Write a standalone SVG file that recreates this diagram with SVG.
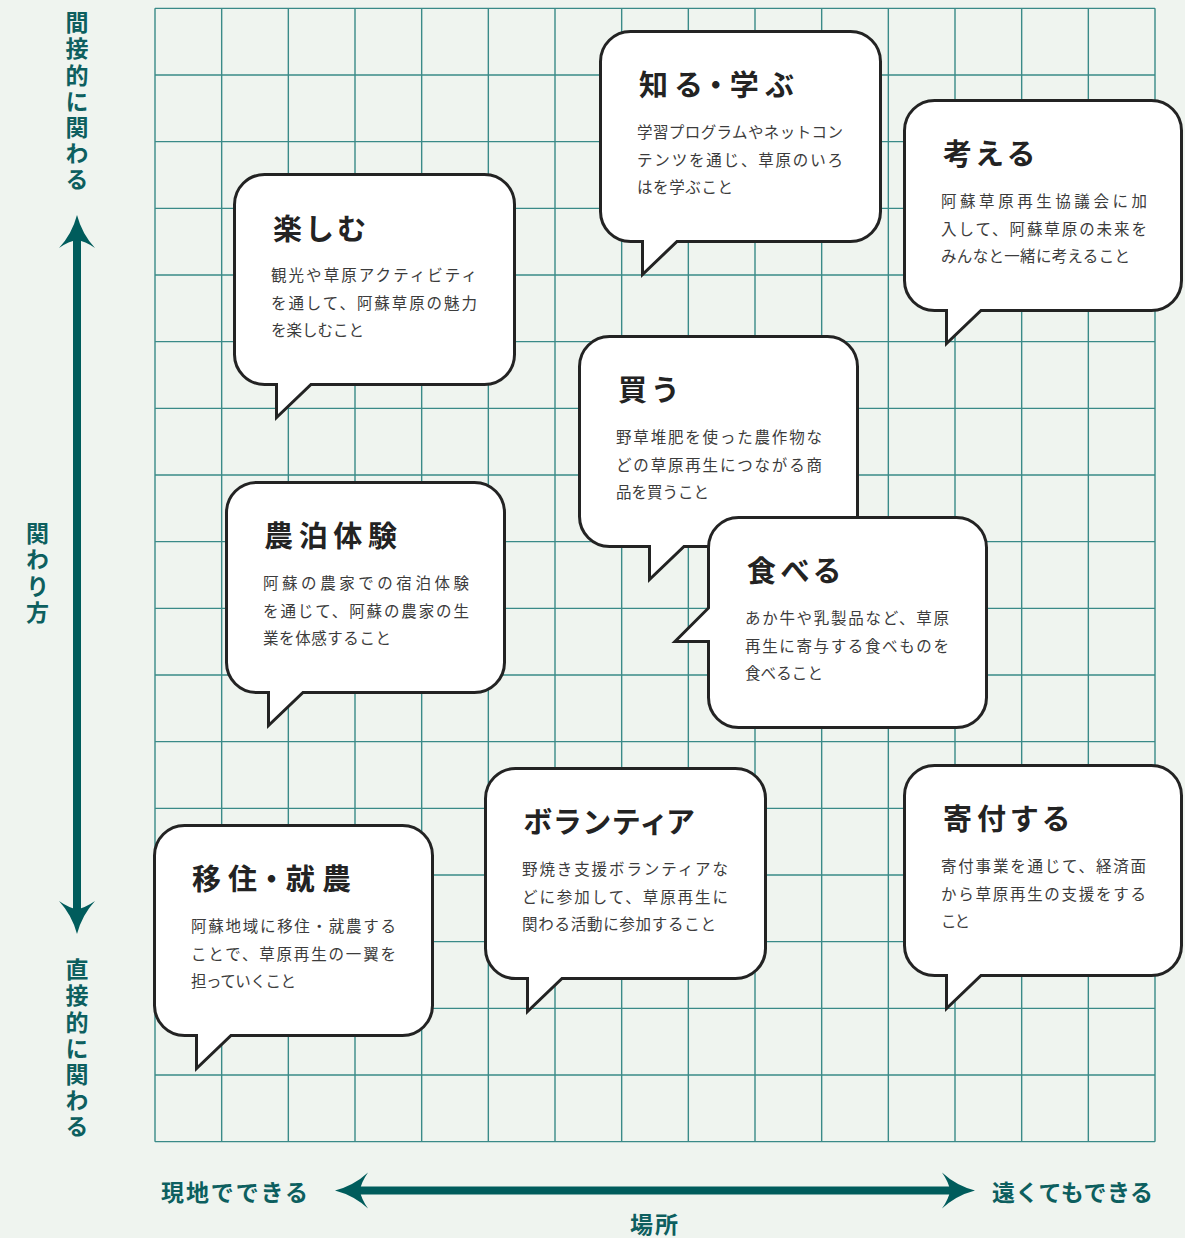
<svg xmlns="http://www.w3.org/2000/svg" width="1185" height="1238" viewBox="0 0 1185 1238">
<style>
.grid{fill:none;stroke:#3a8a88;stroke-width:1.4}
.bub{fill:#fff;stroke:#232323;stroke-width:3;stroke-linejoin:miter;stroke-miterlimit:10}
.ttl{font-family:"Noto Sans CJK JP","Noto Sans",sans-serif;font-weight:700;font-size:29px;fill:#232323;font-feature-settings:"palt"}
.bdy{font-family:"Noto Sans CJK JP","Noto Sans",sans-serif;font-weight:400;font-size:15.5px;fill:#3c3c3c}
.ax{font-family:"Noto Sans CJK JP","Noto Sans",sans-serif;font-weight:700;font-size:23px;fill:#0d5f5f}
.axv{writing-mode:vertical-rl;letter-spacing:3.2px}
.shaft{stroke:#005c5c;stroke-width:8;fill:none}
.head{fill:#005c5c}
</style>
<rect width="1185" height="1238" fill="#eff4ef"/>
<g id="grid">
<path class="grid" d="M155,8.33V1141.67M221.67,8.33V1141.67M288.33,8.33V1141.67M355,8.33V1141.67M421.67,8.33V1141.67M488.33,8.33V1141.67M555,8.33V1141.67M621.67,8.33V1141.67M688.33,8.33V1141.67M755,8.33V1141.67M821.67,8.33V1141.67M888.33,8.33V1141.67M955,8.33V1141.67M1021.67,8.33V1141.67M1088.33,8.33V1141.67M1155,8.33V1141.67
M155,8.33H1155M155,75H1155M155,141.67H1155M155,208.33H1155M155,275H1155M155,341.67H1155M155,408.33H1155M155,475H1155M155,541.67H1155M155,608.33H1155M155,675H1155M155,741.67H1155M155,808.33H1155M155,875H1155M155,941.67H1155M155,1008.33H1155M155,1075H1155M155,1141.67H1155"/>
</g>
<g id="connectors">
<line class="shaft" x1="77" y1="238" x2="77" y2="912"/>
<path class="head" d="M77,215 Q82,234 95,248 Q85,241 77,240 Q69,241 59,248 Q72,234 77,215Z"/>
<path class="head" d="M77,934 Q82,915 95,901 Q85,908 77,909 Q69,908 59,901 Q72,915 77,934Z"/>
<line class="shaft" x1="358" y1="1190.5" x2="952" y2="1190.5"/>
<path class="head" d="M335,1190.5 Q354,1185.5 368,1172.5 Q361,1182.5 360,1190.5 Q361,1198.5 368,1208.5 Q354,1195.5 335,1190.5Z"/>
<path class="head" d="M975,1190.5 Q956,1185.5 942,1172.5 Q949,1182.5 950,1190.5 Q949,1198.5 942,1208.5 Q956,1195.5 975,1190.5Z"/>
</g>
<g id="axis-labels">
<text class="ax axv" x="77" y="11">間接的に関わる</text>
<text class="ax axv" x="37.5" y="522">関わり方</text>
<text class="ax axv" x="77" y="958">直接的に関わる</text>
<text class="ax" x="161" y="1201" textLength="147" lengthAdjust="spacing">現地でできる</text>
<text class="ax" x="992" y="1201" textLength="161" lengthAdjust="spacing">遠くてもできる</text>
<text class="ax" x="655" y="1233" text-anchor="middle" letter-spacing="2">場所</text>
</g>
<g id="node-tanoshimu">
<path class="bub" d="M264.5,174.5H484.5A30,30 0 0 1 514.5,204.5V354.5A30,30 0 0 1 484.5,384.5H311L276.5,417.5V384.5H264.5A30,30 0 0 1 234.5,354.5V204.5A30,30 0 0 1 264.5,174.5Z"/>
<text class="ttl" x="273" y="240" textLength="93" lengthAdjust="spacing">楽しむ</text>
<text class="bdy" x="271" y="281" textLength="206" lengthAdjust="spacing">観光や草原アクティビティ</text>
<text class="bdy" x="271" y="308.5" textLength="206" lengthAdjust="spacing">を通して、阿蘇草原の魅力</text>
<text class="bdy" x="271" y="336" textLength="93" lengthAdjust="spacing">を楽しむこと</text>
</g>
<g id="node-shiru">
<path class="bub" d="M630.5,31.5H850.5A30,30 0 0 1 880.5,61.5V211.5A30,30 0 0 1 850.5,241.5H677L642.5,274.5V241.5H630.5A30,30 0 0 1 600.5,211.5V61.5A30,30 0 0 1 630.5,31.5Z"/>
<text class="ttl" x="639" y="96" textLength="155" lengthAdjust="spacing">知る・学ぶ</text>
<text class="bdy" x="637" y="138" textLength="206" lengthAdjust="spacing">学習プログラムやネットコン</text>
<text class="bdy" x="637" y="165.5" textLength="206" lengthAdjust="spacing">テンツを通じ、草原のいろ</text>
<text class="bdy" x="637" y="193" textLength="96" lengthAdjust="spacing">はを学ぶこと</text>
</g>
<g id="node-kangaeru">
<path class="bub" d="M934.5,100.5H1151.5A30,30 0 0 1 1181.5,130.5V280.5A30,30 0 0 1 1151.5,310.5H981L946.5,343.5V310.5H934.5A30,30 0 0 1 904.5,280.5V130.5A30,30 0 0 1 934.5,100.5Z"/>
<text class="ttl" x="943" y="165" textLength="91" lengthAdjust="spacing">考える</text>
<text class="bdy" x="941" y="207" textLength="206" lengthAdjust="spacing">阿蘇草原再生協議会に加</text>
<text class="bdy" x="941" y="234.5" textLength="206" lengthAdjust="spacing">入して、阿蘇草原の未来を</text>
<text class="bdy" x="941" y="262" textLength="189" lengthAdjust="spacing">みんなと一緒に考えること</text>
</g>
<g id="node-kau">
<path class="bub" d="M609.5,336.5H827.5A30,30 0 0 1 857.5,366.5V516.5A30,30 0 0 1 827.5,546.5H684L649.5,579.5V546.5H609.5A30,30 0 0 1 579.5,516.5V366.5A30,30 0 0 1 609.5,336.5Z"/>
<text class="ttl" x="618" y="401" textLength="59" lengthAdjust="spacing">買う</text>
<text class="bdy" x="616" y="443" textLength="206" lengthAdjust="spacing">野草堆肥を使った農作物な</text>
<text class="bdy" x="616" y="470.5" textLength="206" lengthAdjust="spacing">どの草原再生につながる商</text>
<text class="bdy" x="616" y="498" textLength="93" lengthAdjust="spacing">品を買うこと</text>
</g>
<g id="node-taberu">
<path class="bub" d="M738.5,517.5H956.5A30,30 0 0 1 986.5,547.5V697.5A30,30 0 0 1 956.5,727.5H738.5A30,30 0 0 1 708.5,697.5V641.5H675L708.5,608V547.5A30,30 0 0 1 738.5,517.5Z"/>
<text class="ttl" x="747" y="582" textLength="93" lengthAdjust="spacing">食べる</text>
<text class="bdy" x="745" y="624" textLength="204" lengthAdjust="spacing">あか牛や乳製品など、草原</text>
<text class="bdy" x="745" y="651.5" textLength="204" lengthAdjust="spacing">再生に寄与する食べものを</text>
<text class="bdy" x="745" y="679" textLength="78" lengthAdjust="spacing">食べること</text>
</g>
<g id="node-nouhaku">
<path class="bub" d="M256.5,482.5H474.5A30,30 0 0 1 504.5,512.5V662.5A30,30 0 0 1 474.5,692.5H303L268.5,725.5V692.5H256.5A30,30 0 0 1 226.5,662.5V512.5A30,30 0 0 1 256.5,482.5Z"/>
<text class="ttl" x="264" y="547" textLength="133" lengthAdjust="spacing">農泊体験</text>
<text class="bdy" x="263" y="589" textLength="206" lengthAdjust="spacing">阿蘇の農家での宿泊体験</text>
<text class="bdy" x="263" y="616.5" textLength="206" lengthAdjust="spacing">を通じて、阿蘇の農家の生</text>
<text class="bdy" x="263" y="644" textLength="128" lengthAdjust="spacing">業を体感すること</text>
</g>
<g id="node-ijuu">
<path class="bub" d="M184.5,825.5H402.5A30,30 0 0 1 432.5,855.5V1005.5A30,30 0 0 1 402.5,1035.5H231L196.5,1068.5V1035.5H184.5A30,30 0 0 1 154.5,1005.5V855.5A30,30 0 0 1 184.5,825.5Z"/>
<text class="ttl" x="192" y="890" textLength="159" lengthAdjust="spacing">移住・就農</text>
<text class="bdy" x="191" y="932" textLength="205" lengthAdjust="spacing">阿蘇地域に移住・就農する</text>
<text class="bdy" x="191" y="959.5" textLength="205" lengthAdjust="spacing">ことで、草原再生の一翼を</text>
<text class="bdy" x="191" y="987" textLength="105" lengthAdjust="spacing">担っていくこと</text>
</g>
<g id="node-volunteer">
<path class="bub" d="M515.5,768.5H735.5A30,30 0 0 1 765.5,798.5V948.5A30,30 0 0 1 735.5,978.5H562L527.5,1011.5V978.5H515.5A30,30 0 0 1 485.5,948.5V798.5A30,30 0 0 1 515.5,768.5Z"/>
<text class="ttl" x="523" y="833" textLength="171" lengthAdjust="spacing">ボランティア</text>
<text class="bdy" x="522" y="875" textLength="206" lengthAdjust="spacing">野焼き支援ボランティアな</text>
<text class="bdy" x="522" y="902.5" textLength="206" lengthAdjust="spacing">どに参加して、草原再生に</text>
<text class="bdy" x="522" y="930" textLength="194" lengthAdjust="spacing">関わる活動に参加すること</text>
</g>
<g id="node-kifu">
<path class="bub" d="M934.5,765.5H1151.5A30,30 0 0 1 1181.5,795.5V945.5A30,30 0 0 1 1151.5,975.5H981L946.5,1008.5V975.5H934.5A30,30 0 0 1 904.5,945.5V795.5A30,30 0 0 1 934.5,765.5Z"/>
<text class="ttl" x="943" y="830" textLength="126" lengthAdjust="spacing">寄付する</text>
<text class="bdy" x="941" y="872" textLength="205" lengthAdjust="spacing">寄付事業を通じて、経済面</text>
<text class="bdy" x="941" y="899.5" textLength="205" lengthAdjust="spacing">から草原再生の支援をする</text>
<text class="bdy" x="941" y="927" textLength="29" lengthAdjust="spacing">こと</text>
</g>
</svg>
